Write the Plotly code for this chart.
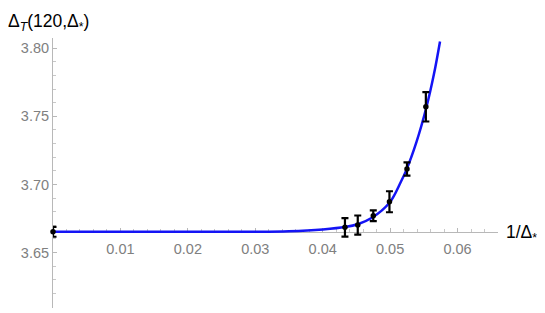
import plotly.graph_objects as go

# Data points with error bars
x_pts = [0.0, 0.0433, 0.0452, 0.0475, 0.0499, 0.0525, 0.0553]
y_pts = [3.6652, 3.6685, 3.6702, 3.6770, 3.6873, 3.7113, 3.7570]
y_err = [0.0036, 0.0068, 0.0070, 0.0040, 0.0077, 0.0049, 0.0108]

# Fitted curve samples
x_fit = [0.0, 0.010, 0.020, 0.030, 0.035, 0.040, 0.0433, 0.0453, 0.0473, 0.0499,
         0.0516, 0.0524, 0.0539, 0.0554, 0.0565, 0.0574]
y_fit = [3.6652, 3.6652, 3.6652, 3.6653, 3.6657, 3.6670, 3.6687, 3.6710, 3.6755, 3.6865,
         3.7020, 3.7105, 3.7310, 3.7570, 3.7810, 3.8050]

x_ticks = [0.01, 0.02, 0.03, 0.04, 0.05, 0.06]
x_ticklabels = ["0.01", "0.02", "0.03", "0.04", "0.05", "0.06"]
y_ticks = [3.65, 3.70, 3.75, 3.80]
y_ticklabels = ["3.65", "3.70", "3.75", "3.80"]

x_range = [0.0, 0.066]
y_range = [3.6093, 3.8075]
x_axis_cross = 3.6652

fig = go.Figure()
fig.add_trace(go.Scatter(x=x_fit, y=y_fit, mode="lines", line=dict(color="#1414f5", width=2.5, shape="spline"),
                         hoverinfo="skip", showlegend=False))
fig.add_trace(go.Scatter(x=x_pts, y=y_pts, mode="markers",
                         marker=dict(color="black", size=5.5),
                         error_y=dict(type="data", array=y_err, visible=True, color="black", thickness=2.2, width=3.5),
                         cliponaxis=False, showlegend=False))

pos = (x_axis_cross - y_range[0]) / (y_range[1] - y_range[0])
tickfont = dict(family="Liberation Sans, Arial, sans-serif", size=14.5, color="#808080")
labfont = dict(family="Liberation Sans, Arial, sans-serif", size=17.5, color="black")

fig.update_layout(
    width=537, height=305,
    margin=dict(l=45, r=47, t=30, b=5, autoexpand=False),
    paper_bgcolor="white", plot_bgcolor="white",
    xaxis=dict(range=x_range, showgrid=False, zeroline=False, showline=True, linecolor="#b8b8b8", linewidth=1,
               anchor="free", position=pos, ticks="inside", ticklen=4, tickcolor="#b8b8b8",
               tickvals=x_ticks, ticktext=x_ticklabels, tickfont=tickfont, ticklabelstandoff=4,
               layer="below traces",
               minor=dict(dtick=0.002, ticks="inside", ticklen=2.5, tickcolor="#c8c8c8", showgrid=False)),
    yaxis=dict(range=y_range, showgrid=False, zeroline=False, showline=True, linecolor="#b8b8b8", linewidth=1,
               ticks="inside", ticklen=4, tickcolor="#b8b8b8",
               tickvals=y_ticks, ticktext=y_ticklabels, tickfont=tickfont,
               layer="below traces",
               minor=dict(dtick=0.01, ticks="inside", ticklen=2.5, tickcolor="#c8c8c8", showgrid=False)),
    annotations=[
        dict(text="Δ<sub><i>T</i></sub>(120,Δ<sub>*</sub>)", xref="paper", yref="paper", x=0, y=1,
             xanchor="left", yanchor="bottom", showarrow=False, xshift=-47, yshift=2,
             font=labfont),
        dict(text="1/Δ<sub>*</sub>", xref="paper", yref="y", x=1, y=x_axis_cross,
             xanchor="left", yanchor="middle", showarrow=False, xshift=6, yshift=-2,
             font=labfont),
    ],
)

fig.write_html("out.html")
